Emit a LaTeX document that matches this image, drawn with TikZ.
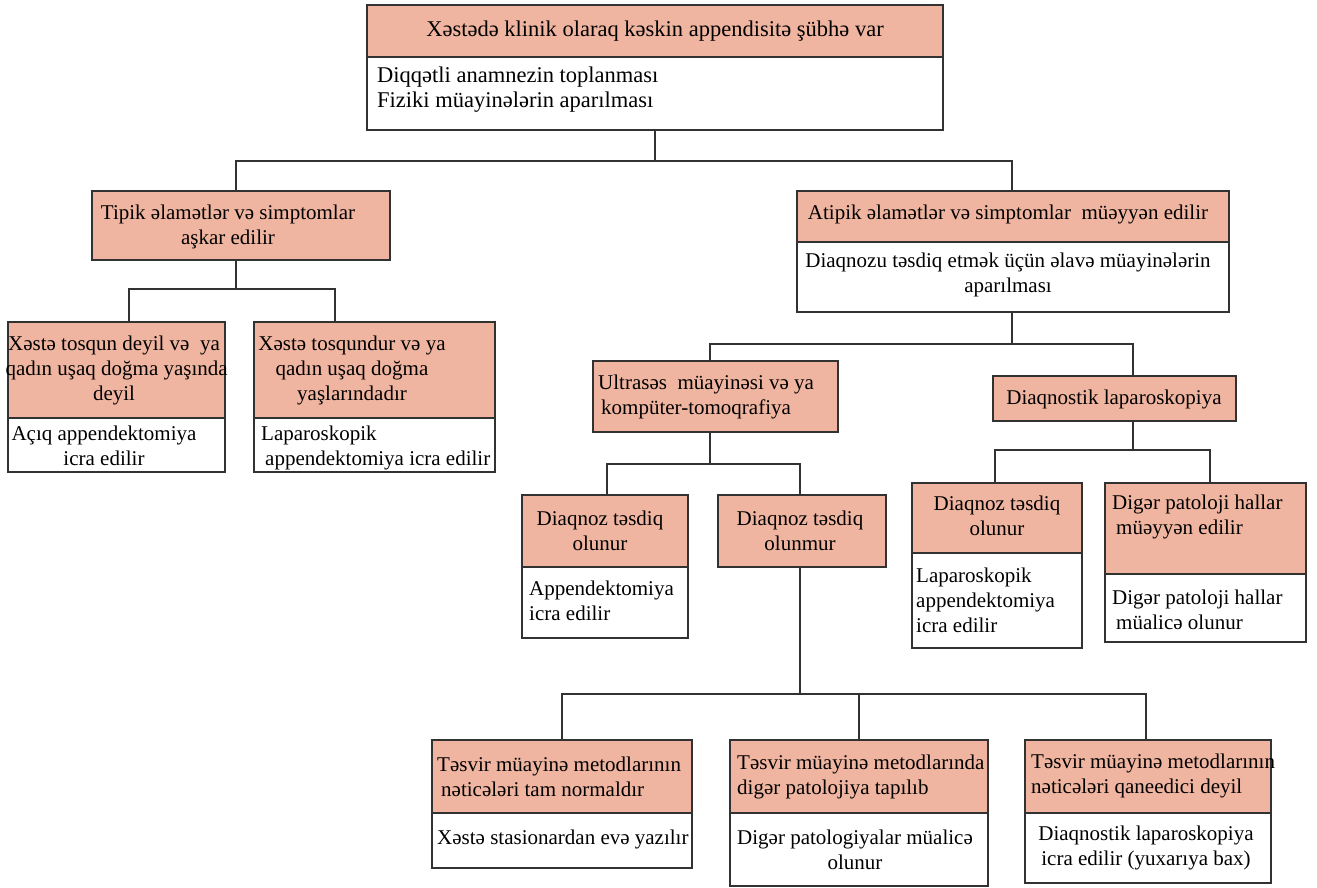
\documentclass[tikz,border=0pt]{standalone}
\usepackage{fontspec}
\setmainfont{Liberation Serif}
\newcommand\diagfont{\fontsize{21}{25}\selectfont}
\newcommand\topfont{\fontsize{22.5}{25}\selectfont}
\definecolor{salmon}{RGB}{240,181,160}
\definecolor{linecol}{RGB}{50,50,50}
\begin{document}
\begin{tikzpicture}[x=1pt,y=-1pt,
  hdr/.style={draw=linecol, line width=1.5pt, fill=salmon, inner sep=0pt},
  bdy/.style={draw=linecol, line width=1.5pt, fill=white, inner sep=0pt},
  txt/.style={inner sep=0pt, align=center, font=\diagfont, text=black},
  ltxt/.style={inner sep=0pt, align=left, anchor=west, font=\diagfont, text=black},
  conn/.style={draw=linecol, line width=1.5pt}]
\useasboundingbox (0,0) rectangle (1317,888);
\fill[white] (0,0) rectangle (1317,888);
% ---- boxes
\node[hdr, minimum width=576pt, minimum height=52pt] (h0) at (655,31) {};
\node[bdy, minimum width=576pt, minimum height=73pt] (b0) at (655,93.5) {};
\node[hdr, minimum width=298pt, minimum height=69pt] (tip) at (241,225.5) {};
\node[hdr, minimum width=432pt, minimum height=51pt] (ath) at (1013,216.5) {};
\node[bdy, minimum width=432pt, minimum height=70pt] (atb) at (1013,277) {};
\node[hdr, minimum width=217pt, minimum height=96pt] (l1h) at (116.5,370) {};
\node[bdy, minimum width=217pt, minimum height=54pt] (l1b) at (116.5,445) {};
\node[hdr, minimum width=241pt, minimum height=96pt] (l2h) at (374.5,370) {};
\node[bdy, minimum width=241pt, minimum height=54pt] (l2b) at (374.5,445) {};
\node[hdr, minimum width=245pt, minimum height=71pt] (ult) at (715.5,396.5) {};
\node[hdr, minimum width=243pt, minimum height=45pt] (dl) at (1114.5,398.5) {};
\node[hdr, minimum width=166pt, minimum height=72pt] (d1h) at (605,531) {};
\node[bdy, minimum width=166pt, minimum height=71pt] (d1b) at (605,602.5) {};
\node[hdr, minimum width=168pt, minimum height=72pt] (d2h) at (802,531) {};
\node[hdr, minimum width=170pt, minimum height=70pt] (d3h) at (997,518) {};
\node[bdy, minimum width=170pt, minimum height=95pt] (d3b) at (997,600.5) {};
\node[hdr, minimum width=201pt, minimum height=91pt] (d4h) at (1205.5,528.5) {};
\node[bdy, minimum width=201pt, minimum height=68pt] (d4b) at (1205.5,608) {};
\node[hdr, minimum width=260pt, minimum height=73pt] (e1h) at (562,776.5) {};
\node[bdy, minimum width=260pt, minimum height=55pt] (e1b) at (562,840.5) {};
\node[hdr, minimum width=258pt, minimum height=73pt] (e2h) at (859,776.5) {};
\node[bdy, minimum width=258pt, minimum height=73pt] (e2b) at (859,849.5) {};
\node[hdr, minimum width=246pt, minimum height=73pt] (e3h) at (1148,776.5) {};
\node[bdy, minimum width=246pt, minimum height=70pt] (e3b) at (1148,848) {};
% ---- texts
\node[txt, font=\topfont] (h0t) at (655,31) {Xəstədə klinik olaraq kəskin appendisitə şübhə var};
\node[ltxt, font=\topfont] (b0t) at (377,90) {Diqqətli anamnezin toplanması\\Fiziki müayinələrin aparılması};
\node[txt] (tipt) at (228,227) {Tipik əlamətlər və simptomlar\\aşkar edilir};
\node[txt] (atht) at (1008,214) {Atipik əlamətlər və simptomlar\ \ müəyyən edilir};
\node[txt] (atbt) at (1008,275) {Diaqnozu təsdiq etmək üçün əlavə müayinələrin\\aparılması};
\node[txt] (l1ht) at (114,370) {Xəstə tosqun deyil və\ \ ya\\\ qadın uşaq doğma yaşında\\deyil};
\node[txt] (l1bt) at (104,446) {Açıq appendektomiya\\icra edilir};
\node[txt] (l2ht) at (352,370) {Xəstə tosqundur və ya\\qadın uşaq doğma\\yaşlarındadır};
\node[ltxt] (l2bt) at (261,448) {Laparoskopik\\\hspace{4pt}appendektomiya icra edilir};
\node[ltxt] (ultt) at (598,397) {Ultrasəs\ \ müayinəsi və ya\\\hspace{3pt}kompüter-tomoqrafiya};
\node[txt] (dlt) at (1114,399) {Diaqnostik laparoskopiya};
\node[txt] (d1ht) at (600,531) {Diaqnoz təsdiq\\olunur};
\node[ltxt] (d1bt) at (529,601) {Appendektomiya\\icra edilir};
\node[txt] (d2ht) at (800,531) {Diaqnoz təsdiq\\olunmur};
\node[txt] (d3ht) at (997,516) {Diaqnoz təsdiq\\olunur};
\node[ltxt] (d3bt) at (916,600) {Laparoskopik\\appendektomiya\\icra edilir};
\node[ltxt] (d4ht) at (1112,517) {Digər patoloji hallar\\\hspace{4pt}müəyyən edilir};
\node[ltxt] (d4bt) at (1112,610) {Digər patoloji hallar\\\hspace{4pt}müalicə olunur};
\node[ltxt] (e1ht) at (437,777) {Təsvir müayinə metodlarının\\\hspace{4pt}nəticələri tam normaldır};
\node[ltxt] (e1bt) at (437,839) {Xəstə stasionardan evə yazılır};
\node[ltxt] (e2ht) at (737,777) {Təsvir müayinə metodlarında\\digər patolojiya tapılıb};
\node[txt] (e2bt) at (855,850) {Digər patologiyalar müalicə\\olunur};
\node[ltxt] (e3ht) at (1031,776) {Təsvir müayinə metodlarının\\nəticələri qaneedici deyil};
\node[txt] (e3bt) at (1146,848) {Diaqnostik laparoskopiya\\icra edilir (yuxarıya bax)};
% ---- connectors
\draw[conn] (b0.south) -- ++(0,30) coordinate (j0);
\draw[conn] ([xshift=-5pt]tip.north) |- (j0) -| ([xshift=-1pt]ath.north);
\draw[conn] ([xshift=-5pt]tip.south) -- ++(0,28) coordinate (j1);
\draw[conn] ([xshift=12.5pt]l1h.north) |- (j1) -| ([xshift=-39.5pt]l2h.north);
\draw[conn] ([xshift=-1pt]atb.south) -- ++(0,31) coordinate (j2);
\draw[conn] ([xshift=-5.5pt]ult.north) |- (j2) -| ([xshift=18.5pt]dl.north);
\draw[conn] ([xshift=-5.5pt]ult.south) -- ++(0,31) coordinate (j3);
\draw[conn] ([xshift=2pt]d1h.north) |- (j3) -| ([xshift=-2pt]d2h.north);
\draw[conn] ([xshift=18.5pt]dl.south) -- ++(0,28) coordinate (j4);
\draw[conn] ([xshift=-2pt]d3h.north) |- (j4) -| ([xshift=4.5pt]d4h.north);
\draw[conn] ([xshift=-2pt]d2h.south) -- ++(0,126) coordinate (j5);
\draw[conn] (e1h.north) |- (j5) -| ([xshift=-2pt]e3h.north);
\draw[conn] (e2h.north) -- (e2h.north |- j5);
\end{tikzpicture}
\end{document}
